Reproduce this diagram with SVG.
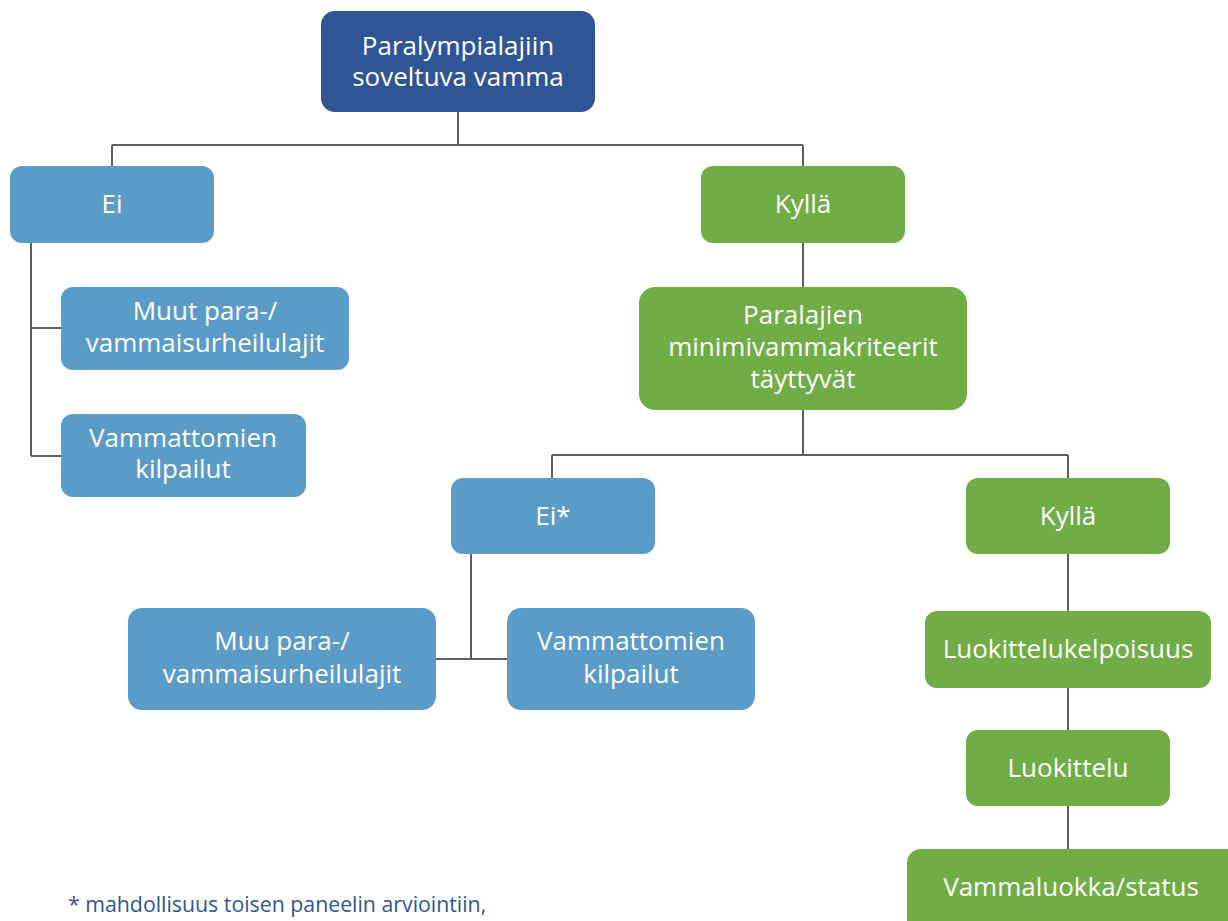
<svg xmlns="http://www.w3.org/2000/svg" width="1228" height="921" viewBox="0 0 1228 921">
<style>
.t{font-family:"Open Sans","Noto Sans",sans-serif;font-size:26px;fill:#ffffff;text-anchor:middle}
.dark{fill:#2F5597}
.blue{fill:#5B9BC7}
.green{fill:#70AD47}
.c{stroke:#5F5F5F;stroke-width:2;fill:none}
.note{font-family:"Open Sans","Noto Sans",sans-serif;font-size:21.3px;fill:#2F5597}
</style>
<rect width="1228" height="921" fill="#ffffff"/>
<g id="connectors">
<path class="c" d="M458 112V145M112 145H803M112 145V166M803 145V166"/>
<path class="c" d="M31 243V456M31 328H61M31 456H61"/>
<path class="c" d="M803 243V287M803 410V455M552 455H1068M552 455V478M1068 455V478"/>
<path class="c" d="M471 554V659M436 659H507"/>
<path class="c" d="M1068 554V611M1068 688V730M1068 806V849"/>
</g>
<g id="n-root"><rect class="dark" x="321" y="11" width="274" height="101" rx="14"/><text class="t" x="458" y="55">Paralympialajiin</text><text class="t" x="458" y="86">soveltuva vamma</text></g>
<g id="n-ei"><rect class="blue" x="10" y="166" width="204" height="77" rx="12"/><text class="t" x="112" y="213">Ei</text></g>
<g id="n-kylla"><rect class="green" x="701" y="166" width="204" height="77" rx="12"/><text class="t" x="803" y="213">Kyllä</text></g>
<g id="n-muut"><rect class="blue" x="61" y="287" width="288" height="83" rx="12"/><text class="t" x="205" y="320">Muut para-/</text><text class="t" x="205" y="352">vammaisurheilulajit</text></g>
<g id="n-vamm1"><rect class="blue" x="61" y="414" width="245" height="83" rx="12"/><text class="t" x="183" y="447">Vammattomien</text><text class="t" x="183" y="478">kilpailut</text></g>
<g id="n-paralajien"><rect class="green" x="639" y="287" width="328" height="123" rx="16"/><text class="t" x="803" y="324">Paralajien</text><text class="t" x="803" y="356">minimivammakriteerit</text><text class="t" x="803" y="388">täyttyvät</text></g>
<g id="n-eistar"><rect class="blue" x="451" y="478" width="204" height="76" rx="12"/><text class="t" x="553" y="525">Ei*</text></g>
<g id="n-kylla2"><rect class="green" x="966" y="478" width="204" height="76" rx="12"/><text class="t" x="1068" y="525">Kyllä</text></g>
<g id="n-muu"><rect class="blue" x="128" y="608" width="308" height="102" rx="14"/><text class="t" x="282" y="650">Muu para-/</text><text class="t" x="282" y="683">vammaisurheilulajit</text></g>
<g id="n-vamm2"><rect class="blue" x="507" y="608" width="248" height="102" rx="14"/><text class="t" x="631" y="650">Vammattomien</text><text class="t" x="631" y="683">kilpailut</text></g>
<g id="n-luokkelp"><rect class="green" x="925" y="611" width="286" height="77" rx="12"/><text class="t" x="1068" y="658">Luokittelukelpoisuus</text></g>
<g id="n-luok"><rect class="green" x="966" y="730" width="204" height="76" rx="12"/><text class="t" x="1068" y="777">Luokittelu</text></g>
<g id="n-status"><rect class="green" x="907" y="849" width="340" height="90" rx="14"/><text class="t" x="1071" y="896">Vammaluokka/status</text></g>
<text class="note" x="68" y="912">* mahdollisuus toisen paneelin arviointiin,</text>
</svg>
